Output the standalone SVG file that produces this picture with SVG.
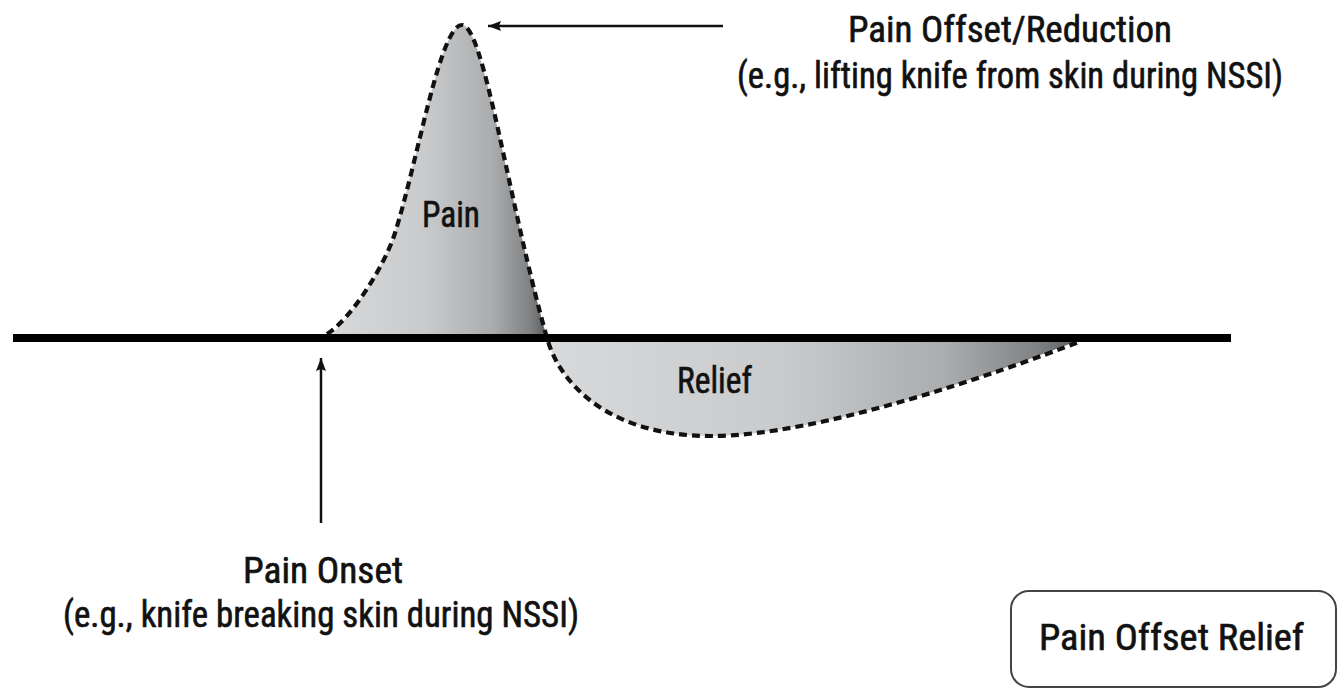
<svg xmlns="http://www.w3.org/2000/svg" width="1338" height="689" viewBox="0 0 1338 689">
<style>
  text { font-family: "Liberation Sans Narrow", "Roboto Condensed", "Liberation Sans", Arial, sans-serif; font-size: 36px; fill: #111; stroke: #111; stroke-width: 0.6; }
  .curve { fill: none; stroke: #111; stroke-width: 4.2; stroke-dasharray: 8 5; }
  .conn { stroke: #111; stroke-width: 2.5; fill: none; }
</style>
<defs>
  <linearGradient id="shade" x1="0" y1="0" x2="1" y2="0">
    <stop offset="0" stop-color="#d8d9db"/>
    <stop offset="0.45" stop-color="#c8cacc"/>
    <stop offset="0.75" stop-color="#aaacae"/>
    <stop offset="0.92" stop-color="#808284"/>
    <stop offset="1" stop-color="#5a5c5e"/>
  </linearGradient>
  <marker id="arrow" markerUnits="userSpaceOnUse" markerWidth="14" markerHeight="12" refX="13" refY="5" orient="auto">
    <path d="M0,0 L13,5 L0,10 L2,5 z" fill="#111"/>
  </marker>
</defs>

<g id="pain">
  <path d="M327,338 C352,318 385,265 395,233 C418,160 440,25 462,25 C484,25 508,200 547,338 Z" fill="url(#shade)"/>
  <text x="422" y="227" textLength="58" lengthAdjust="spacingAndGlyphs">Pain</text>
</g>
<g id="relief">
  <path d="M547,338 C560,385 610,436 711,436 C820,436 1000,372 1079,340 Z" fill="url(#shade)"/>
  <text x="677" y="393" textLength="75" lengthAdjust="spacingAndGlyphs">Relief</text>
</g>
<path id="curve" class="curve" d="M327,334 C352,318 385,265 395,233 C418,160 440,25 462,25 C484,25 508,200 547,338 C560,385 610,436 711,436 C820,436 1000,372 1079,342"/>

<g id="baseline">
  <rect x="13" y="334" width="1218" height="8" fill="#000"/>
</g>

<g id="connectors">
  <line class="conn" x1="723" y1="26" x2="488" y2="26" marker-end="url(#arrow)"/>
  <line class="conn" x1="321" y1="523" x2="321" y2="358" marker-end="url(#arrow)"/>
</g>

<g id="offset-label">
  <text x="848" y="42" textLength="324" lengthAdjust="spacingAndGlyphs">Pain Offset/Reduction</text>
  <text x="737" y="88" textLength="546" lengthAdjust="spacingAndGlyphs">(e.g., lifting knife from skin during NSSI)</text>
</g>

<g id="onset-label">
  <text x="243" y="583" textLength="160" lengthAdjust="spacingAndGlyphs">Pain Onset</text>
  <text x="63" y="627" textLength="516" lengthAdjust="spacingAndGlyphs">(e.g., knife breaking skin during NSSI)</text>
</g>

<g id="legend-box">
  <rect x="1011" y="591" width="325" height="96" rx="18" ry="18" fill="#fff" stroke="#444" stroke-width="2"/>
  <text x="1039" y="650" textLength="265" lengthAdjust="spacingAndGlyphs">Pain Offset Relief</text>
</g>
</svg>
